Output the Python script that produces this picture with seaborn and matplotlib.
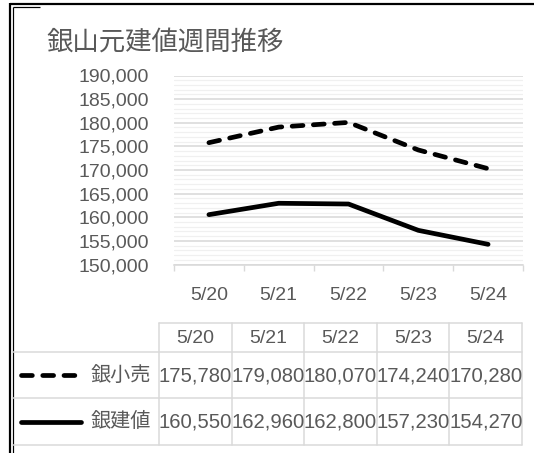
import matplotlib
matplotlib.use('Agg')
import matplotlib.pyplot as plt
import seaborn as sns
import pandas as pd
from matplotlib.ticker import FixedLocator, FuncFormatter, MultipleLocator

# ---- data ----
title = "銀山元建値週間推移"
dates = ["5/20", "5/21", "5/22", "5/23", "5/24"]
series_names = ["銀小売", "銀建値"]
retail = [175780, 179080, 180070, 174240, 170280]
base = [160550, 162960, 162800, 157230, 154270]
y_ticks = [150000, 155000, 160000, 165000, 170000, 175000, 180000, 185000, 190000]

sns.set_theme(style='white')
plt.rcParams['font.family'] = ['Liberation Sans', 'Noto Sans CJK JP', 'DejaVu Sans']

W, H = 534, 453
TXT = '#595959'
GRID = '#d9d9d9'
PX = 0.72  # points per pixel at 100 dpi
LW = 3.4

fig = plt.figure(figsize=(W / 100, H / 100), dpi=100)
fig.patch.set_facecolor('white')

# background / overlay axes in pixel coordinates
bg = fig.add_axes([0, 0, 1, 1], zorder=0)
bg.set_xlim(0, W)
bg.set_ylim(H, 0)
bg.axis('off')

# ---- main plot ----
left, right, top, bottom = 174, 523, 75.5, 264.5
ax = fig.add_axes([left / W, 1 - bottom / H, (right - left) / W, (bottom - top) / H], zorder=2)
ax.patch.set_alpha(0)

positions = list(range(len(dates)))
df = pd.DataFrame({
    'pos': positions * 2,
    'value': retail + base,
    'series': [series_names[0]] * len(dates) + [series_names[1]] * len(dates),
})
dash_pat = (2.3, 2.2)
sns.lineplot(data=df, x='pos', y='value', style='series',
             dashes={series_names[0]: dash_pat, series_names[1]: ''},
             color='black', linewidth=LW, ax=ax, legend=False, sort=False, zorder=5)
for ln in ax.lines:
    ln.set_dash_capstyle('round')
    ln.set_solid_capstyle('round')
    ln.set_solid_joinstyle('round')
    ln.set_dash_joinstyle('round')

ax.set_xlim(-0.5, len(dates) - 0.5)
ax.set_ylim(y_ticks[0], y_ticks[-1])
ax.set_xlabel('')
ax.set_ylabel('')

ax.yaxis.set_major_locator(FixedLocator(y_ticks))
ax.yaxis.set_minor_locator(MultipleLocator(1000))
ax.yaxis.set_major_formatter(FuncFormatter(lambda v, p: f"{int(v):,}"))
ax.grid(axis='y', which='major', color=GRID, linewidth=1.6 * PX, zorder=1)
ax.grid(axis='y', which='minor', color='#f0f0f0', linewidth=1.2 * PX, zorder=0)
ax.set_axisbelow(True)

ax.set_xticks(positions)
ax.set_xticklabels(dates)
ax.xaxis.set_minor_locator(FixedLocator([p - 0.5 for p in positions] + [positions[-1] + 0.5]))
ax.tick_params(axis='x', which='major', length=0, pad=16, labelsize=14, labelcolor=TXT)
ax.tick_params(axis='x', which='minor', length=6 * PX, width=1.4 * PX, color=GRID, direction='out', bottom=True)
ax.tick_params(axis='y', which='both', length=0, pad=18, labelsize=14, labelcolor=TXT)

for s in ['top', 'right', 'left']:
    ax.spines[s].set_visible(False)
ax.spines['bottom'].set_color(GRID)
ax.spines['bottom'].set_linewidth(1.6 * PX)

# ---- title ----
bg.text(46, 42, title, fontsize=19, color=TXT, ha='left', va='center',
        family=['Noto Sans CJK JP', 'DejaVu Sans'])

# ---- border (double on left) ----
bg.plot([9.5, W], [3.5, 3.5], color='black', lw=2.2 * PX, solid_capstyle='butt')
bg.plot([9.5, 9.5], [3, H], color='black', lw=2.2 * PX, solid_capstyle='butt')
bg.plot([12.5, 12.5], [7, H], color='black', lw=1.2 * PX, solid_capstyle='butt')
bg.plot([12.5, 40], [7, 7], color='black', lw=1.2 * PX, solid_capstyle='butt')

# ---- data table ----
t_left, t_right = 159, 522
rows_y = [323, 352, 398, 445]
ncol = len(dates)
col_w = (t_right - t_left) / ncol
col_edges = [t_left + i * col_w for i in range(ncol + 1)]
glw = 1.5 * PX
bg.plot([t_left, t_right], [rows_y[0], rows_y[0]], color=GRID, lw=glw)
for yv in rows_y[1:]:
    bg.plot([12.5, t_right], [yv, yv], color=GRID, lw=glw)
for xv in col_edges:
    bg.plot([xv, xv], [rows_y[0], rows_y[-1]], color=GRID, lw=glw)

for i, d in enumerate(dates):
    cx = (col_edges[i] + col_edges[i + 1]) / 2
    bg.text(cx, (rows_y[0] + rows_y[1]) / 2 + 1, d, fontsize=14, color=TXT, ha='center', va='center')

for r, (name, vals) in enumerate(zip(series_names, [retail, base])):
    cy = (rows_y[r + 1] + rows_y[r + 2]) / 2
    for i, v in enumerate(vals):
        cx = (col_edges[i] + col_edges[i + 1]) / 2
        bg.text(cx, cy + 1, f"{v:,}", fontsize=14.6, color=TXT, ha='center', va='center')
    bg.text(151, cy, name, fontsize=14.5, color=TXT, ha='right', va='center',
            family=['Noto Sans CJK JP', 'DejaVu Sans'])
    if r == 0:
        bg.plot([21, 78], [cy, cy], color='black', lw=LW, dashes=dash_pat,
                dash_capstyle='round')
    else:
        bg.plot([21, 81], [cy, cy], color='black', lw=LW, solid_capstyle='round')

fig.savefig('out.png', dpi=100, facecolor='white')
